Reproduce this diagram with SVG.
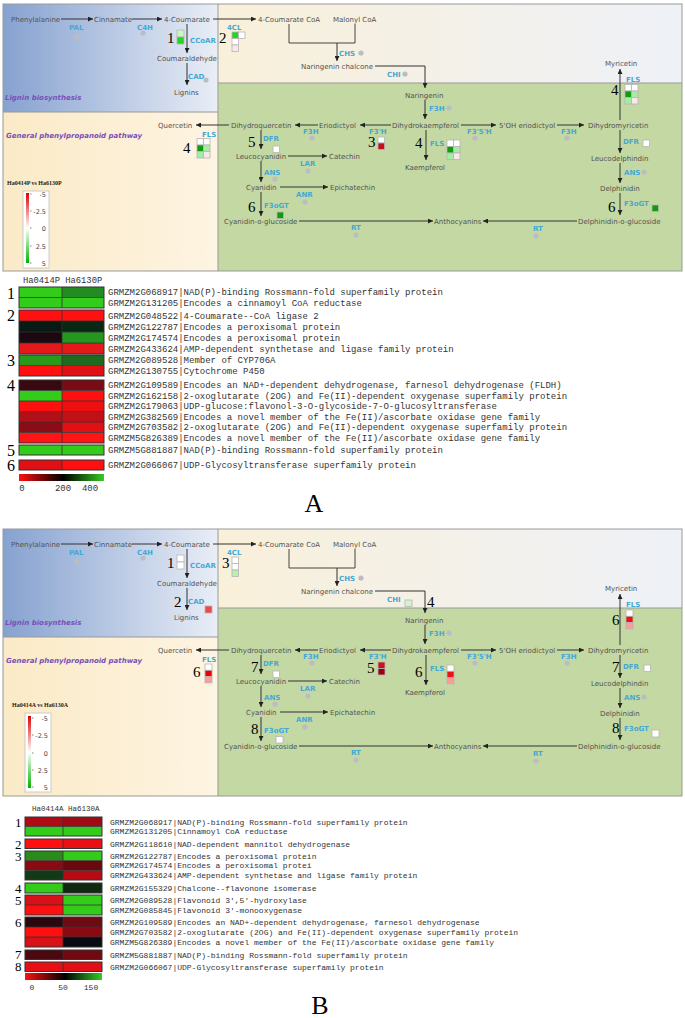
<svg xmlns="http://www.w3.org/2000/svg" width="685" height="1018" viewBox="0 0 685 1018">
<defs>
<linearGradient id="gLig" x1="0" y1="0" x2="1" y2="0"><stop offset="0" stop-color="#86a2d0"/><stop offset="0.55" stop-color="#bccbe5"/><stop offset="1" stop-color="#e9eef6"/></linearGradient>
<linearGradient id="gTop" x1="0" y1="0" x2="1" y2="0"><stop offset="0" stop-color="#f9f0da"/><stop offset="1" stop-color="#eef1f7"/></linearGradient>
<linearGradient id="gGen" x1="0" y1="0" x2="1" y2="0"><stop offset="0" stop-color="#fbeac6"/><stop offset="1" stop-color="#fdf4e2"/></linearGradient>
<linearGradient id="gLeg" x1="0" y1="0" x2="0" y2="1"><stop offset="0" stop-color="#dd0000"/><stop offset="0.5" stop-color="#ffffff"/><stop offset="1" stop-color="#00b400"/></linearGradient>
<linearGradient id="gBar" x1="0" y1="0" x2="1" y2="0"><stop offset="0" stop-color="#ff1010"/><stop offset="0.52" stop-color="#000000"/><stop offset="1" stop-color="#33cc22"/></linearGradient>
<marker id="ah" viewBox="0 0 6 6" refX="6" refY="3" markerWidth="5" markerHeight="5" markerUnits="userSpaceOnUse" orient="auto"><path d="M0,0 L6,3 L0,6 z" fill="#222"/></marker>
</defs>
<style>
.c{font-family:"DejaVu Sans",sans-serif;font-size:7px;fill:#525252}
.e{font-family:"DejaVu Sans",sans-serif;font-size:7px;font-weight:bold;fill:#45a8d6}
.r{font-family:"DejaVu Sans",sans-serif;font-size:7px;font-weight:bold;font-style:italic;fill:#7a50b8}
.n{font-family:"Liberation Serif",serif;font-size:15px;fill:#000}
.d{fill:#bcbcc4}
.ln{stroke:#444;stroke-width:1;fill:none}
.ar{stroke:#333;stroke-width:1;fill:none;marker-end:url(#ah)}
.hc{stroke:#b5b5b5;stroke-width:0.8}
.frame{fill:none;stroke:#999;stroke-width:1}
.lt{font-family:"Liberation Serif",serif;font-size:6px;font-weight:bold;fill:#222}
.ll{font-family:"DejaVu Sans",sans-serif;font-size:6.5px;fill:#444;text-anchor:end}
.ga{font-family:"Liberation Mono",monospace;font-size:9px;fill:#333}
.gb{font-family:"Liberation Mono",monospace;font-size:8px;fill:#333}
.gl{font-family:"Liberation Serif",serif;font-size:16px;fill:#000}
.gl2{font-family:"Liberation Serif",serif;font-size:13px;fill:#000}
.gbox{fill:none;stroke:#333;stroke-width:1}
.big{font-family:"Liberation Serif",serif;font-size:26px;fill:#000;text-anchor:middle}
</style>

<!-- ================= PANEL A PATHWAY ================= -->
<g id="panelA">
<g id="bgA">
<rect x="3" y="4" width="215" height="108" fill="url(#gLig)"/>
<rect x="218" y="4" width="464" height="79" fill="url(#gTop)"/>
<rect x="3" y="112" width="215" height="159" fill="url(#gGen)"/>
<rect x="218" y="83" width="464" height="188" fill="#c4d8a3"/>
<rect class="frame" x="3" y="4" width="679" height="267"/>
<path d="M218,4V271M3,112H218M218,83H682" stroke="#999" fill="none"/>
</g>
<g id="connectorsA">
<path class="ar" d="M61,19H93"/>
<path class="ar" d="M132,19H162"/>
<path class="ar" d="M213,19H256"/>
<path class="ar" d="M187,24V53"/>
<path class="ar" d="M187,63V85"/>
<path class="ln" d="M289,24V43H355V24"/>
<path class="ar" d="M337,43V61"/>
<path class="ar" d="M375,66H425V88"/>
<path class="ar" d="M425,100V119"/>
<path class="ar" d="M391,125H360"/>
<path class="ar" d="M318,125H295"/>
<path class="ar" d="M229,125H196"/>
<path class="ar" d="M261,130V149"/>
<path class="ar" d="M288,156H327"/>
<path class="ar" d="M261,161V182"/>
<path class="ar" d="M280,187H328"/>
<path class="ar" d="M261,192V216"/>
<path class="ar" d="M299,221H433"/>
<path class="ar" d="M577,221H483"/>
<path class="ar" d="M461,125H496"/>
<path class="ar" d="M557,125H584"/>
<path class="ar" d="M620,120V69"/>
<path class="ar" d="M620,130V153"/>
<path class="ar" d="M620,163V183"/>
<path class="ar" d="M620,193V215"/>
<path class="ar" d="M426,130V160"/>
</g>
<g id="regionsA">
<text class="r" x="5" y="99.5">Lignin biosynthesis</text>
<text class="r" x="6" y="137.5">General phenylpropanoid pathway</text>
</g>
<g id="nodesA">
<g id="a-phe"><text class="c" x="11" y="21.5">Phenylalanine</text></g>
<g id="a-cin"><text class="c" x="94" y="21.5">Cinnamate</text></g>
<g id="a-cou"><text class="c" x="164" y="21.5">4-Coumarate</text></g>
<g id="a-coa"><text class="c" x="258" y="21.5">4-Coumarate CoA</text></g>
<g id="a-mal"><text class="c" x="333" y="21.5">Malonyl CoA</text></g>
<g id="a-cald"><text class="c" x="157" y="60.5">Coumaraldehyde</text></g>
<g id="a-lig"><text class="c" x="174" y="94.5">Lignins</text></g>
<g id="a-nchal"><text class="c" x="301" y="68.5">Naringenin chalcone</text></g>
<g id="a-nar"><text class="c" x="405" y="97.5">Naringenin</text></g>
<g id="a-dhk"><text class="c" x="392" y="127.5">Dihydrokaempferol</text></g>
<g id="a-eri"><text class="c" x="319" y="127.5">Eriodictyol</text></g>
<g id="a-dhq"><text class="c" x="231" y="127.5">Dihydroquercetin</text></g>
<g id="a-que"><text class="c" x="158" y="128">Quercetin</text></g>
<g id="a-5oh"><text class="c" x="499" y="127.5">5'OH eriodictyol</text></g>
<g id="a-dhm"><text class="c" x="588" y="127.5">Dihydromyricetin</text></g>
<g id="a-myr"><text class="c" x="605" y="65.5">Myricetin</text></g>
<g id="a-leuc"><text class="c" x="236" y="158.5">Leucocyanidin</text></g>
<g id="a-cat"><text class="c" x="329" y="158.5">Catechin</text></g>
<g id="a-kae"><text class="c" x="405" y="169.5">Kaempferol</text></g>
<g id="a-leud"><text class="c" x="591" y="160.5">Leucodelphindin</text></g>
<g id="a-cya"><text class="c" x="246" y="189.5">Cyanidin</text></g>
<g id="a-epi"><text class="c" x="330" y="189.5">Epichatechin</text></g>
<g id="a-del"><text class="c" x="600" y="190.5">Delphinidin</text></g>
<g id="a-cyag"><text class="c" x="224" y="223.5">Cyanidin-o-glucoside</text></g>
<g id="a-ant"><text class="c" x="434" y="223.5">Anthocyanins</text></g>
<g id="a-delg"><text class="c" x="578" y="223.5">Delphinidin-o-glucoside</text></g>
</g>
<g id="enzymesA">
<text class="e" x="69" y="29.5">PAL</text>
<text class="e" x="137" y="29.5">C4H</text>
<text class="e" x="227" y="29.5">4CL</text>
<text class="e" x="190" y="42.5">CCoAR</text>
<text class="e" x="188" y="78.5">CAD</text>
<text class="e" x="339" y="55.5">CHS</text>
<text class="e" x="387" y="76.5">CHI</text>
<text class="e" x="429" y="110.5">F3H</text>
<text class="e" x="369" y="133.5">F3'H</text>
<text class="e" x="303" y="133.5">F3H</text>
<text class="e" x="202" y="136.5">FLS</text>
<text class="e" x="263" y="140.5">DFR</text>
<text class="e" x="300" y="165.5">LAR</text>
<text class="e" x="264" y="174.5">ANS</text>
<text class="e" x="296" y="196.5">ANR</text>
<text class="e" x="264" y="207.5">F3oGT</text>
<text class="e" x="351" y="229.5">RT</text>
<text class="e" x="533" y="230.5">RT</text>
<text class="e" x="467" y="133.5">F3'5'H</text>
<text class="e" x="561" y="133.5">F3H</text>
<text class="e" x="626" y="81.5">FLS</text>
<text class="e" x="430" y="145.5">FLS</text>
<text class="e" x="623" y="143.5">DFR</text>
<text class="e" x="624" y="174.5">ANS</text>
<text class="e" x="624" y="205.5">F3oGT</text>
</g>
<g id="dotsA">
<circle class="d" cx="77" cy="37" r="2.6"/><circle class="d" cx="143" cy="33" r="2.6"/><circle class="d" cx="206" cy="80" r="2.6"/>
<circle class="d" cx="361" cy="53" r="2.6"/><circle class="d" cx="405" cy="74" r="2.6"/><circle class="d" cx="449" cy="108" r="2.6"/>
<circle class="d" cx="312" cy="138" r="2.6"/><circle class="d" cx="308" cy="171" r="2.6"/><circle class="d" cx="275" cy="179" r="2.6"/>
<circle class="d" cx="305" cy="202" r="2.6"/><circle class="d" cx="356" cy="235" r="2.6"/><circle class="d" cx="536" cy="236" r="2.6"/>
<circle class="d" cx="475" cy="138" r="2.6"/><circle class="d" cx="567" cy="138" r="2.6"/><circle class="d" cx="644" cy="172" r="2.6"/>
</g>
<g id="miniA">
<g id="mA1"><rect class="hc" x="177" y="30" width="7" height="7" fill="#c8f7c0"/><rect class="hc" x="177" y="37" width="7" height="7" fill="#20d820"/><text class="n" x="167" y="43">1</text></g>
<g id="mA2"><rect class="hc" x="232" y="32" width="6.5" height="6.5" fill="#20d820"/><rect class="hc" x="238.5" y="32" width="6.5" height="6.5" fill="#fff"/><rect class="hc" x="232" y="38.5" width="6.5" height="6.5" fill="#fff"/><rect class="hc" x="232" y="45" width="6.5" height="6.5" fill="#fbe6ec"/><text class="n" x="219" y="43">2</text></g>
<g id="mA3"><rect class="hc" x="378" y="137" width="6.5" height="6" fill="#fff"/><rect class="hc" x="378" y="143" width="6.5" height="6.5" fill="#c20f1f"/><text class="n" x="368" y="147">3</text></g>
<g id="mA4a"><rect class="hc" x="197" y="138.5" width="6.5" height="6.5" fill="#fff"/><rect class="hc" x="203.5" y="138.5" width="6.5" height="6.5" fill="#fff"/><rect class="hc" x="197" y="145" width="6.5" height="6.5" fill="#139a13"/><rect class="hc" x="203.5" y="145" width="6.5" height="6.5" fill="#a6eca6"/><rect class="hc" x="197" y="151.5" width="6.5" height="6.5" fill="#a6eca6"/><rect class="hc" x="203.5" y="151.5" width="6.5" height="6.5" fill="#fbe6ec"/><text class="n" x="183" y="153">4</text></g>
<g id="mA4b"><rect class="hc" x="447" y="140" width="6.5" height="6.5" fill="#fff"/><rect class="hc" x="453.5" y="140" width="6.5" height="6.5" fill="#fff"/><rect class="hc" x="447" y="146.5" width="6.5" height="6.5" fill="#139a13"/><rect class="hc" x="453.5" y="146.5" width="6.5" height="6.5" fill="#a6eca6"/><rect class="hc" x="447" y="153" width="6.5" height="6.5" fill="#a6eca6"/><rect class="hc" x="453.5" y="153" width="6.5" height="6.5" fill="#fbe6ec"/><text class="n" x="415" y="148">4</text></g>
<g id="mA4c"><rect class="hc" x="625" y="84.5" width="6.5" height="6.5" fill="#fff"/><rect class="hc" x="631.5" y="84.5" width="6.5" height="6.5" fill="#fff"/><rect class="hc" x="625" y="91" width="6.5" height="6.5" fill="#139a13"/><rect class="hc" x="631.5" y="91" width="6.5" height="6.5" fill="#a6eca6"/><rect class="hc" x="625" y="97.5" width="6.5" height="6.5" fill="#a6eca6"/><rect class="hc" x="631.5" y="97.5" width="6.5" height="6.5" fill="#fbe6ec"/><text class="n" x="611" y="95">4</text></g>
<g id="mA5"><rect class="hc" x="273" y="146" width="6.5" height="6.5" fill="#fff"/><text class="n" x="248" y="147">5</text></g>
<g id="mA6a"><rect class="hc" x="277" y="212" width="6.5" height="6.5" fill="#139a13"/><text class="n" x="248" y="212">6</text></g>
<g id="mA5b"><rect class="hc" x="643" y="140" width="6.5" height="6.5" fill="#fff"/></g>
<g id="mA6b"><rect class="hc" x="652" y="205" width="6.5" height="6.5" fill="#139a13"/><text class="n" x="608" y="212">6</text></g>
</g>
<g id="legendA">
<text class="lt" x="7" y="185">Ha0414P vs Ha6130P</text>
<rect x="23" y="191" width="26" height="77" fill="#fff" stroke="#ccc"/>
<rect x="26" y="193" width="3" height="70" fill="url(#gLeg)"/>
<path d="M30,194h1.5M30,211h1.5M30,228h1.5M30,246h1.5M30,263h1.5" stroke="#666" stroke-width="0.8"/>
<text class="ll" x="46" y="196.5">-5</text><text class="ll" x="46" y="213.5">-2.5</text><text class="ll" x="46" y="230.5">0</text><text class="ll" x="46" y="248.5">2.5</text><text class="ll" x="46" y="265.5">5</text>
</g>
</g>

<!-- ================= PANEL A HEATMAP ================= -->
<g id="heatA">
<text x="23" y="283" font-family="Liberation Mono, monospace" font-size="8.8" fill="#333">Ha0414P Ha6130P</text>
<g id="hA1">
<rect x="19" y="287" width="43" height="10.5" fill="#33cc1a"/><rect x="62" y="287" width="42" height="10.5" fill="#228b22"/>
<rect x="19" y="297.5" width="43" height="10.5" fill="#33cc1a"/><rect x="62" y="297.5" width="42" height="10.5" fill="#33cc1a"/>
<rect class="gbox" x="19" y="287" width="85" height="21"/><path d="M62,287V308M19,297.5H104" stroke="#333" stroke-width="0.8"/>
<text class="gl" x="7" y="298.5">1</text>
<text class="ga" x="108" y="295.3">GRMZM2G068917|NAD(P)-binding Rossmann-fold superfamily protein</text>
<text class="ga" x="108" y="305.8">GRMZM2G131205|Encodes a cinnamoyl CoA reductase</text>
</g>
<g id="hA2">
<rect x="19" y="310" width="43" height="11" fill="#ff1111"/><rect x="62" y="310" width="42" height="11" fill="#ff1111"/>
<rect x="19" y="321" width="43" height="11" fill="#081a14"/><rect x="62" y="321" width="42" height="11" fill="#0a2614"/>
<rect x="19" y="332" width="43" height="11" fill="#1c0810"/><rect x="62" y="332" width="42" height="11" fill="#25961e"/>
<rect x="19" y="343" width="43" height="11" fill="#e41a1a"/><rect x="62" y="343" width="42" height="11" fill="#e41a1a"/>
<rect class="gbox" x="19" y="310" width="85" height="44"/><path d="M62,310V354M19,321H104M19,332H104M19,343H104" stroke="#333" stroke-width="0.8"/>
<text class="gl" x="7" y="321">2</text>
<text class="ga" x="108" y="318.5">GRMZM2G048522|4-Coumarate--CoA ligase 2</text>
<text class="ga" x="108" y="329.5">GRMZM2G122787|Encodes a peroxisomal protein</text>
<text class="ga" x="108" y="340.5">GRMZM2G174574|Encodes a peroxisomal protein</text>
<text class="ga" x="108" y="351.5">GRMZM2G433624|AMP-dependent synthetase and ligase family protein</text>
</g>
<g id="hA3">
<rect x="19" y="355" width="43" height="10.5" fill="#2a9a1a"/><rect x="62" y="355" width="42" height="10.5" fill="#1e6a1e"/>
<rect x="19" y="365.5" width="43" height="10.5" fill="#ff1010"/><rect x="62" y="365.5" width="42" height="10.5" fill="#e01015"/>
<rect class="gbox" x="19" y="355" width="85" height="21"/><path d="M62,355V376M19,365.5H104" stroke="#333" stroke-width="0.8"/>
<text class="gl" x="7" y="366">3</text>
<text class="ga" x="108" y="363.3">GRMZM2G089528|Member of CYP706A</text>
<text class="ga" x="108" y="373.8">GRMZM2G130755|Cytochrome P450</text>
</g>
<g id="hA4">
<rect x="19" y="380" width="43" height="10.5" fill="#3a0810"/><rect x="62" y="380" width="42" height="10.5" fill="#7a0a14"/>
<rect x="19" y="390.5" width="43" height="10.5" fill="#33cc1a"/><rect x="62" y="390.5" width="42" height="10.5" fill="#ff1010"/>
<rect x="19" y="401" width="43" height="10.5" fill="#ff1010"/><rect x="62" y="401" width="42" height="10.5" fill="#ee1010"/>
<rect x="19" y="411.5" width="43" height="10.5" fill="#b01018"/><rect x="62" y="411.5" width="42" height="10.5" fill="#c01018"/>
<rect x="19" y="422" width="43" height="10.5" fill="#8a0c14"/><rect x="62" y="422" width="42" height="10.5" fill="#e01015"/>
<rect x="19" y="432.5" width="43" height="10.5" fill="#ff1515"/><rect x="62" y="432.5" width="42" height="10.5" fill="#ff1515"/>
<rect class="gbox" x="19" y="380" width="85" height="63"/><path d="M62,380V443M19,390.5H104M19,401H104M19,411.5H104M19,422H104M19,432.5H104" stroke="#333" stroke-width="0.8"/>
<text class="gl" x="7" y="390.5">4</text>
<text class="ga" x="108" y="388.3">GRMZM2G109589|Encodes an NAD+-dependent dehydrogenase, farnesol dehydrogenase (FLDH)</text>
<text class="ga" x="108" y="398.8">GRMZM2G162158|2-oxoglutarate (2OG) and Fe(II)-dependent oxygenase superfamily protein</text>
<text class="ga" x="108" y="409.3">GRMZM2G179063|UDP-glucose:flavonol-3-O-glycoside-7-O-glucosyltransferase</text>
<text class="ga" x="108" y="419.8">GRMZM2G382569|Encodes a novel member of the Fe(II)/ascorbate oxidase gene family</text>
<text class="ga" x="108" y="430.3">GRMZM2G703582|2-oxoglutarate (2OG) and Fe(II)-dependent oxygenase superfamily protein</text>
<text class="ga" x="108" y="440.8">GRMZM5G826389|Encodes a novel member of the Fe(II)/ascorbate oxidase gene family</text>
</g>
<g id="hA5">
<rect x="19" y="445" width="43" height="10" fill="#33cc1a"/><rect x="62" y="445" width="42" height="10" fill="#33cc1a"/>
<rect class="gbox" x="19" y="445" width="85" height="10"/><path d="M62,445V455" stroke="#333" stroke-width="0.8"/>
<text class="gl" x="7" y="456">5</text>
<text class="ga" x="108" y="453">GRMZM5G881887|NAD(P)-binding Rossmann-fold superfamily protein</text>
</g>
<g id="hA6">
<rect x="19" y="460" width="43" height="10" fill="#e01015"/><rect x="62" y="460" width="42" height="10" fill="#ff1010"/>
<rect class="gbox" x="19" y="460" width="85" height="10"/><path d="M62,460V470" stroke="#333" stroke-width="0.8"/>
<text class="gl" x="7" y="471">6</text>
<text class="ga" x="108" y="468">GRMZM2G066067|UDP-Glycosyltransferase superfamily protein</text>
</g>
<g id="barA">
<rect x="19" y="474" width="85" height="7" fill="url(#gBar)"/>
<text class="ga" x="22" y="491" text-anchor="middle" fill="#444">0</text>
<text class="ga" x="63" y="491" text-anchor="middle" fill="#444">200</text>
<text class="ga" x="90" y="491" text-anchor="middle" fill="#444">400</text>
</g>
<text class="big" x="314" y="512">A</text>
</g>

<!-- ================= PANEL B PATHWAY ================= -->
<g id="panelB" transform="translate(0,525)">
<g id="bgB">
<rect x="3" y="4" width="215" height="108" fill="url(#gLig)"/>
<rect x="218" y="4" width="464" height="79" fill="url(#gTop)"/>
<rect x="3" y="112" width="215" height="159" fill="url(#gGen)"/>
<rect x="218" y="83" width="464" height="188" fill="#c4d8a3"/>
<rect class="frame" x="3" y="4" width="679" height="267"/>
<path d="M218,4V271M3,112H218M218,83H682" stroke="#999" fill="none"/>
</g>
<g id="connectorsB">
<path class="ar" d="M61,19H93"/>
<path class="ar" d="M132,19H162"/>
<path class="ar" d="M213,19H256"/>
<path class="ar" d="M187,24V53"/>
<path class="ar" d="M187,63V85"/>
<path class="ln" d="M289,24V43H355V24"/>
<path class="ar" d="M337,43V61"/>
<path class="ar" d="M375,66H425V88"/>
<path class="ar" d="M425,100V119"/>
<path class="ar" d="M391,125H360"/>
<path class="ar" d="M318,125H295"/>
<path class="ar" d="M229,125H196"/>
<path class="ar" d="M261,130V149"/>
<path class="ar" d="M288,156H327"/>
<path class="ar" d="M261,161V182"/>
<path class="ar" d="M280,187H328"/>
<path class="ar" d="M261,192V216"/>
<path class="ar" d="M299,221H433"/>
<path class="ar" d="M577,221H483"/>
<path class="ar" d="M461,125H496"/>
<path class="ar" d="M557,125H584"/>
<path class="ar" d="M620,120V69"/>
<path class="ar" d="M620,130V153"/>
<path class="ar" d="M620,163V183"/>
<path class="ar" d="M620,193V215"/>
<path class="ar" d="M426,130V160"/>
</g>
<g id="regionsB">
<text class="r" x="5" y="99.5">Lignin biosynthesis</text>
<text class="r" x="6" y="137.5">General phenylpropanoid pathway</text>
</g>
<g id="nodesB">
<g id="b-phe"><text class="c" x="11" y="21.5">Phenylalanine</text></g>
<g id="b-cin"><text class="c" x="94" y="21.5">Cinnamate</text></g>
<g id="b-cou"><text class="c" x="164" y="21.5">4-Coumarate</text></g>
<g id="b-coa"><text class="c" x="258" y="21.5">4-Coumarate CoA</text></g>
<g id="b-mal"><text class="c" x="333" y="21.5">Malonyl CoA</text></g>
<g id="b-cald"><text class="c" x="157" y="60.5">Coumaraldehyde</text></g>
<g id="b-lig"><text class="c" x="174" y="94.5">Lignins</text></g>
<g id="b-nchal"><text class="c" x="301" y="68.5">Naringenin chalcone</text></g>
<g id="b-nar"><text class="c" x="405" y="97.5">Naringenin</text></g>
<g id="b-dhk"><text class="c" x="392" y="127.5">Dihydrokaempferol</text></g>
<g id="b-eri"><text class="c" x="319" y="127.5">Eriodictyol</text></g>
<g id="b-dhq"><text class="c" x="231" y="127.5">Dihydroquercetin</text></g>
<g id="b-que"><text class="c" x="158" y="128">Quercetin</text></g>
<g id="b-5oh"><text class="c" x="499" y="127.5">5'OH eriodictyol</text></g>
<g id="b-dhm"><text class="c" x="588" y="127.5">Dihydromyricetin</text></g>
<g id="b-myr"><text class="c" x="605" y="65.5">Myricetin</text></g>
<g id="b-leuc"><text class="c" x="236" y="158.5">Leucocyanidin</text></g>
<g id="b-cat"><text class="c" x="329" y="158.5">Catechin</text></g>
<g id="b-kae"><text class="c" x="405" y="169.5">Kaempferol</text></g>
<g id="b-leud"><text class="c" x="591" y="160.5">Leucodelphindin</text></g>
<g id="b-cya"><text class="c" x="246" y="189.5">Cyanidin</text></g>
<g id="b-epi"><text class="c" x="330" y="189.5">Epichatechin</text></g>
<g id="b-del"><text class="c" x="600" y="190.5">Delphinidin</text></g>
<g id="b-cyag"><text class="c" x="224" y="223.5">Cyanidin-o-glucoside</text></g>
<g id="b-ant"><text class="c" x="434" y="223.5">Anthocyanins</text></g>
<g id="b-delg"><text class="c" x="578" y="223.5">Delphinidin-o-glucoside</text></g>
</g>
<g id="enzymesB">
<text class="e" x="69" y="29.5">PAL</text>
<text class="e" x="137" y="29.5">C4H</text>
<text class="e" x="227" y="29.5">4CL</text>
<text class="e" x="190" y="42.5">CCoAR</text>
<text class="e" x="188" y="78.5">CAD</text>
<text class="e" x="339" y="55.5">CHS</text>
<text class="e" x="387" y="76.5">CHI</text>
<text class="e" x="429" y="110.5">F3H</text>
<text class="e" x="369" y="133.5">F3'H</text>
<text class="e" x="303" y="133.5">F3H</text>
<text class="e" x="202" y="136.5">FLS</text>
<text class="e" x="263" y="140.5">DFR</text>
<text class="e" x="300" y="165.5">LAR</text>
<text class="e" x="264" y="174.5">ANS</text>
<text class="e" x="296" y="196.5">ANR</text>
<text class="e" x="264" y="207.5">F3oGT</text>
<text class="e" x="351" y="229.5">RT</text>
<text class="e" x="533" y="230.5">RT</text>
<text class="e" x="467" y="133.5">F3'5'H</text>
<text class="e" x="561" y="133.5">F3H</text>
<text class="e" x="626" y="81.5">FLS</text>
<text class="e" x="430" y="145.5">FLS</text>
<text class="e" x="623" y="143.5">DFR</text>
<text class="e" x="624" y="174.5">ANS</text>
<text class="e" x="624" y="205.5">F3oGT</text>
</g>
<g id="dotsB">
<circle class="d" cx="77" cy="37" r="2.6"/><circle class="d" cx="143" cy="33" r="2.6"/>
<circle class="d" cx="361" cy="53" r="2.6"/><circle class="d" cx="449" cy="108" r="2.6"/>
<circle class="d" cx="312" cy="138" r="2.6"/><circle class="d" cx="308" cy="171" r="2.6"/><circle class="d" cx="275" cy="179" r="2.6"/>
<circle class="d" cx="305" cy="202" r="2.6"/><circle class="d" cx="356" cy="235" r="2.6"/><circle class="d" cx="536" cy="236" r="2.6"/>
<circle class="d" cx="475" cy="138" r="2.6"/><circle class="d" cx="567" cy="138" r="2.6"/><circle class="d" cx="644" cy="172" r="2.6"/>
</g>
<g id="miniB">
<g id="mB1"><rect class="hc" x="177" y="30" width="7" height="7" fill="#fff"/><rect class="hc" x="177" y="37" width="7" height="7" fill="#fff"/><text class="n" x="167" y="43">1</text></g>
<g id="mB3"><rect class="hc" x="232" y="32" width="6.5" height="6.5" fill="#fff"/><rect class="hc" x="232" y="38.5" width="6.5" height="6.5" fill="#fff"/><rect class="hc" x="232" y="45" width="6.5" height="6.5" fill="#b8f0b0"/><text class="n" x="222" y="43">3</text></g>
<g id="mB2"><rect class="hc" x="205" y="81" width="7" height="7" fill="#ee4848"/><text class="n" x="174" y="82">2</text></g>
<g id="mB4"><rect class="hc" x="405" y="75" width="7" height="6.5" fill="#d6f3ce"/><text class="n" x="427" y="82">4</text></g>
<g id="mB6a"><rect class="hc" x="205" y="139" width="7" height="6.3" fill="#fff"/><rect class="hc" x="205" y="145.3" width="7" height="6.3" fill="#ee0000"/><rect class="hc" x="205" y="151.6" width="7" height="6.3" fill="#ff9a9a"/><text class="n" x="193" y="152">6</text></g>
<g id="mB7a"><rect class="hc" x="273" y="146" width="6.5" height="6.5" fill="#fff"/><text class="n" x="251" y="147">7</text></g>
<g id="mB8a"><rect class="hc" x="276" y="211.5" width="7" height="6.5" fill="#fff"/><text class="n" x="251" y="209">8</text></g>
<g id="mB5"><rect class="hc" x="378" y="137" width="7" height="6.5" fill="#cc1122"/><rect class="hc" x="378" y="143.5" width="7" height="6.5" fill="#990011"/><text class="n" x="367" y="148">5</text></g>
<g id="mB6b"><rect class="hc" x="447" y="140" width="7" height="6.3" fill="#fff"/><rect class="hc" x="447" y="146.3" width="7" height="6.3" fill="#ee1111"/><rect class="hc" x="447" y="152.6" width="7" height="6.3" fill="#ff9a9a"/><text class="n" x="415" y="152">6</text></g>
<g id="mB6c"><rect class="hc" x="626" y="85" width="7" height="6.3" fill="#fff"/><rect class="hc" x="626" y="91.3" width="7" height="6.3" fill="#ee1111"/><rect class="hc" x="626" y="97.6" width="7" height="6.3" fill="#ff9a9a"/><text class="n" x="612" y="100">6</text></g>
<g id="mB7b"><rect class="hc" x="644" y="140" width="6.5" height="6.5" fill="#fff"/><text class="n" x="612" y="147">7</text></g>
<g id="mB8b"><rect class="hc" x="652" y="205" width="7" height="7" fill="#fff"/><text class="n" x="612" y="208">8</text></g>
</g>
<g id="legendB">
<text class="lt" x="12" y="182">Ha0414A vs Ha6130A</text>
<rect x="25" y="188" width="26" height="79" fill="#fff" stroke="#ccc"/>
<rect x="28" y="191" width="3" height="72" fill="url(#gLeg)"/>
<path d="M32,193h1.5M32,210h1.5M32,228h1.5M32,245h1.5M32,262h1.5" stroke="#666" stroke-width="0.8"/>
<text class="ll" x="48" y="195.5">-5</text><text class="ll" x="48" y="212.5">-2.5</text><text class="ll" x="48" y="230.5">0</text><text class="ll" x="48" y="247.5">2.5</text><text class="ll" x="48" y="264.5">5</text>
</g>
</g>

<!-- ================= PANEL B HEATMAP ================= -->
<g id="heatB">
<text x="32" y="811" font-family="Liberation Mono, monospace" font-size="7.5" fill="#333">Ha0414A Ha6130A</text>
<g id="hB1">
<rect x="25" y="817" width="38" height="9.5" fill="#b00a14"/><rect x="63" y="817" width="39" height="9.5" fill="#a00a14"/>
<rect x="25" y="826.5" width="38" height="9.5" fill="#33cc1a"/><rect x="63" y="826.5" width="39" height="9.5" fill="#33cc1a"/>
<rect class="gbox" x="25" y="817" width="77" height="19"/><path d="M63,817V836M25,826.5H102" stroke="#333" stroke-width="0.8"/>
<text class="gl2" x="15" y="826.5">1</text>
<text class="gb" x="110" y="824.5">GRMZM2G068917|NAD(P)-binding Rossmann-fold superfamily protein</text>
<text class="gb" x="110" y="834">GRMZM2G131205|Cinnamoyl CoA reductase</text>
</g>
<g id="hB2">
<rect x="25" y="839" width="38" height="9.5" fill="#ff1010"/><rect x="63" y="839" width="39" height="9.5" fill="#e81015"/>
<rect class="gbox" x="25" y="839" width="77" height="9.5"/><path d="M63,839V848.5" stroke="#333" stroke-width="0.8"/>
<text class="gl2" x="15" y="848.5">2</text>
<text class="gb" x="110" y="846.5">GRMZM2G118610|NAD-dependent mannitol dehydrogenase</text>
</g>
<g id="hB3">
<rect x="25" y="851" width="38" height="9.7" fill="#2a8a1a"/><rect x="63" y="851" width="39" height="9.7" fill="#33cc1a"/>
<rect x="25" y="860.7" width="38" height="9.7" fill="#8a0a14"/><rect x="63" y="860.7" width="39" height="9.7" fill="#6a0810"/>
<rect x="25" y="870.4" width="38" height="9.6" fill="#123a14"/><rect x="63" y="870.4" width="39" height="9.6" fill="#b80a14"/>
<rect class="gbox" x="25" y="851" width="77" height="29"/><path d="M63,851V880M25,860.7H102M25,870.4H102" stroke="#333" stroke-width="0.8"/>
<text class="gl2" x="15" y="860.5">3</text>
<text class="gb" x="110" y="858.6">GRMZM2G122787|Encodes a peroxisomal protein</text>
<text class="gb" x="110" y="868.3">GRMZM2G174574|Encodes a peroxisomal protei</text>
<text class="gb" x="110" y="878">GRMZM2G433624|AMP-dependent synthetase and ligase family protein</text>
</g>
<g id="hB4">
<rect x="25" y="883" width="38" height="10" fill="#33cc1a"/><rect x="63" y="883" width="39" height="10" fill="#102a12"/>
<rect class="gbox" x="25" y="883" width="77" height="10"/><path d="M63,883V893" stroke="#333" stroke-width="0.8"/>
<text class="gl2" x="15" y="892.5">4</text>
<text class="gb" x="110" y="891">GRMZM2G155329|Chalcone--flavonone isomerase</text>
</g>
<g id="hB5">
<rect x="25" y="895" width="38" height="10" fill="#d81018"/><rect x="63" y="895" width="39" height="10" fill="#33cc1a"/>
<rect x="25" y="905" width="38" height="10" fill="#ff1010"/><rect x="63" y="905" width="39" height="10" fill="#33cc1a"/>
<rect class="gbox" x="25" y="895" width="77" height="20"/><path d="M63,895V915M25,905H102" stroke="#333" stroke-width="0.8"/>
<text class="gl2" x="15" y="904.5">5</text>
<text class="gb" x="110" y="903">GRMZM2G089528|Flavonoid 3',5'-hydroxylase</text>
<text class="gb" x="110" y="913">GRMZM2G085845|Flavonoid 3'-monooxygenase</text>
</g>
<g id="hB6">
<rect x="25" y="917" width="38" height="10" fill="#2a0810"/><rect x="63" y="917" width="39" height="10" fill="#700a12"/>
<rect x="25" y="927" width="38" height="10" fill="#ff1010"/><rect x="63" y="927" width="39" height="10" fill="#8a0a14"/>
<rect x="25" y="937" width="38" height="10" fill="#d81018"/><rect x="63" y="937" width="39" height="10" fill="#0a0a12"/>
<rect class="gbox" x="25" y="917" width="77" height="30"/><path d="M63,917V947M25,927H102M25,937H102" stroke="#333" stroke-width="0.8"/>
<text class="gl2" x="15" y="926.5">6</text>
<text class="gb" x="110" y="925">GRMZM2G109589|Encodes an NAD+-dependent dehydrogenase, farnesol dehydrogenase</text>
<text class="gb" x="110" y="935">GRMZM2G703582|2-oxoglutarate (2OG) and Fe(II)-dependent oxygenase superfamily protein</text>
<text class="gb" x="110" y="945">GRMZM5G826389|Encodes a novel member of the Fe(II)/ascorbate oxidase gene family</text>
</g>
<g id="hB7">
<rect x="25" y="950" width="38" height="9.5" fill="#4a0810"/><rect x="63" y="950" width="39" height="9.5" fill="#700a12"/>
<rect class="gbox" x="25" y="950" width="77" height="9.5"/><path d="M63,950V959.5" stroke="#333" stroke-width="0.8"/>
<text class="gl2" x="15" y="959">7</text>
<text class="gb" x="110" y="957.5">GRMZM5G881887|NAD(P)-binding Rossmann-fold superfamily protein</text>
</g>
<g id="hB8">
<rect x="25" y="962" width="38" height="9.5" fill="#e81015"/><rect x="63" y="962" width="39" height="9.5" fill="#e01015"/>
<rect class="gbox" x="25" y="962" width="77" height="9.5"/><path d="M63,962V971.5" stroke="#333" stroke-width="0.8"/>
<text class="gl2" x="15" y="971">8</text>
<text class="gb" x="110" y="969.5">GRMZM2G066067|UDP-Glycosyltransferase superfamily protein</text>
</g>
<g id="barB">
<rect x="25" y="973" width="77" height="7" fill="url(#gBar)"/>
<text class="gb" x="32" y="990" text-anchor="middle" fill="#444">0</text>
<text class="gb" x="63" y="990" text-anchor="middle" fill="#444">50</text>
<text class="gb" x="91" y="990" text-anchor="middle" fill="#444">150</text>
</g>
<text class="big" x="320" y="1014">B</text>
</g>
</svg>
